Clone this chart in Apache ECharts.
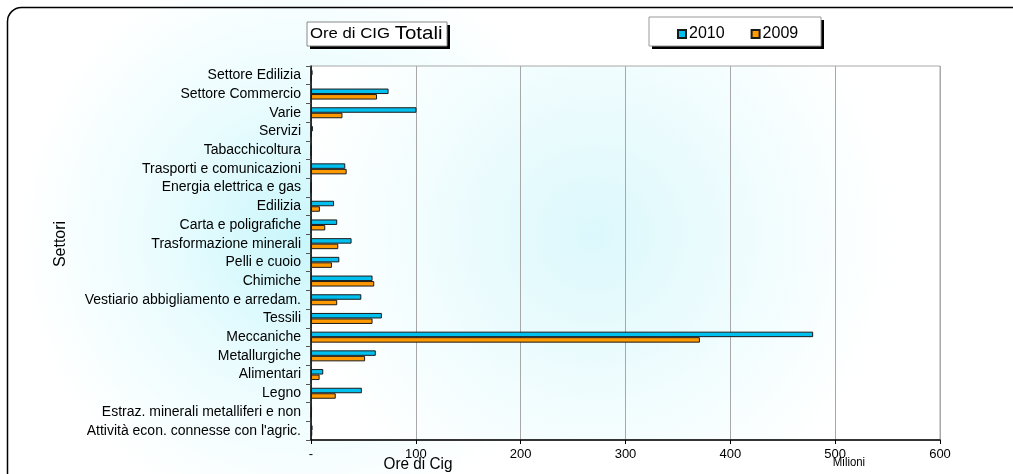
<!DOCTYPE html>
<html><head><meta charset="utf-8">
<script src="https://cdn.jsdelivr.net/npm/echarts@6/dist/echarts.min.js"></script>
<style>html,body{margin:0;padding:0;background:#fff}#c{width:1013px;height:474px}</style>
</head><body><div id="c"></div>
<script>
var categories = ["Settore Edilizia","Settore Commercio","Varie","Servizi","Tabacchicoltura","Trasporti e comunicazioni","Energia elettrica e gas","Edilizia","Carta e poligrafiche","Trasformazione minerali","Pelli e cuoio","Chimiche","Vestiario abbigliamento e arredam.","Tessili","Meccaniche","Metallurgiche","Alimentari","Legno","Estraz. minerali metalliferi e non","Attività econ. connesse con l'agric."];
var values2010 = [1.5, 74, 100.6, 1.8, 0.6, 32.7, 0.5, 22, 25, 38.7, 27, 58.7, 48, 67.6, 479, 61.8, 11.7, 48.5, 1, 1.5];
var values2009 = [0.6, 63, 30, 0.5, 0.3, 34, 0.3, 8.5, 13.6, 26, 20, 60.3, 25, 58.7, 371, 51.6, 8.2, 23.6, 0.5, 1.2];
var xTickLabels = {0:"-",100:"100",200:"200",300:"300",400:"400",500:"500",600:"600"};

var chart = echarts.init(document.getElementById('c'));
var F = 'Liberation Sans, Arial, sans-serif';
chart.setOption({
  animation:false,
  textStyle:{fontFamily:F},
  grid:{left:311,right:73,top:66,bottom:34,show:true,borderColor:'#a8a8a8',borderWidth:1,
    backgroundColor:{type:'radial',x:0.45,y:0.45,r:0.8,colorStops:[{offset:0,color:'#dcf8fc'},{offset:0.6,color:'#f2fdfe'},{offset:1,color:'#ffffff'}]}},
  legend:{left:672,top:21,itemWidth:8,itemHeight:8,itemGap:26,icon:'rect',
    textStyle:{fontSize:16,color:'#000',fontFamily:F,padding:[0,0,0,-2]},
    data:['2010','2009']},
  xAxis:{type:'value',min:0,max:600,interval:100,
    axisLine:{show:true,lineStyle:{color:'#000',width:1.5}},
    axisTick:{show:true,length:4,lineStyle:{color:'#000'}},
    splitLine:{show:true,lineStyle:{color:'#a8a8a8'}},
    axisLabel:{color:'#000',fontSize:13,margin:8,formatter:function(v){return xTickLabels[v];}}},
  yAxis:{type:'category',data:categories,inverse:true,
    axisLine:{show:true,lineStyle:{color:'#000',width:1.5}},
    axisTick:{show:true,length:5,lineStyle:{color:'#555'}},
    splitLine:{show:false},
    axisLabel:{color:'#000',fontSize:14,margin:10}},
  series:[
    {name:'2010',type:'bar',data:values2010,barWidth:5.5,barGap:'0%',
     itemStyle:{color:'#00c0f0',borderColor:'#1a1a1a',borderWidth:1}},
    {name:'2009',type:'bar',data:values2009,barWidth:5.5,barGap:'0%',
     itemStyle:{color:'#ff9900',borderColor:'#1a1a1a',borderWidth:1}}
  ],
  graphic:[
    {type:'rect',z:-10,silent:true,shape:{x:0,y:0,width:1013,height:474},
     style:{fill:{type:'radial',x:0.3,y:0.5,r:0.6,colorStops:[{offset:0,color:'#c8f6fb'},{offset:0.5,color:'#eafcfe'},{offset:1,color:'#ffffff'}]}}},
    {type:'rect',z:-9,silent:true,shape:{x:7.5,y:7.5,width:1030,height:500,r:14},
     style:{fill:'none',stroke:'#000',lineWidth:1.5}},
    // title box
    {type:'rect',z:10,shape:{x:310,y:25,width:140,height:24},style:{fill:'#000'}},
    {type:'rect',z:11,shape:{x:307,y:22,width:140,height:24},style:{fill:'#fff',stroke:'#888',lineWidth:1}},
    {type:'text',z:12,x:310,y:34,scaleX:1.08,style:{text:'{a|Ore di CIG }{b|Totali}',verticalAlign:'middle',rich:{a:{fontSize:15.5,fontFamily:F,fill:'#000'},b:{fontSize:19,fontFamily:F,fill:'#000'}}}},
    // legend box
    {type:'rect',z:1,shape:{x:652,y:20,width:172,height:29},style:{fill:'#000'}},
    {type:'rect',z:2,shape:{x:649,y:17,width:172,height:29},style:{fill:'#fff',stroke:'#999',lineWidth:1}},
    // axis titles
    {type:'text',x:418,y:464,scaleX:0.9,style:{text:'Ore di Cig',fontSize:17,fontFamily:F,fill:'#000',align:'center',verticalAlign:'middle'}},
    {type:'text',x:849,y:462,scaleX:0.95,scaleY:1.1,style:{text:'Milioni',fontSize:12,fontFamily:F,fill:'#000',align:'center',verticalAlign:'middle'}},
    {type:'text',x:61,y:244,rotation:Math.PI/2,style:{text:'Settori',fontSize:16,fontFamily:F,fill:'#000',align:'center',verticalAlign:'middle'}}
  ]
});
</script></body></html>
